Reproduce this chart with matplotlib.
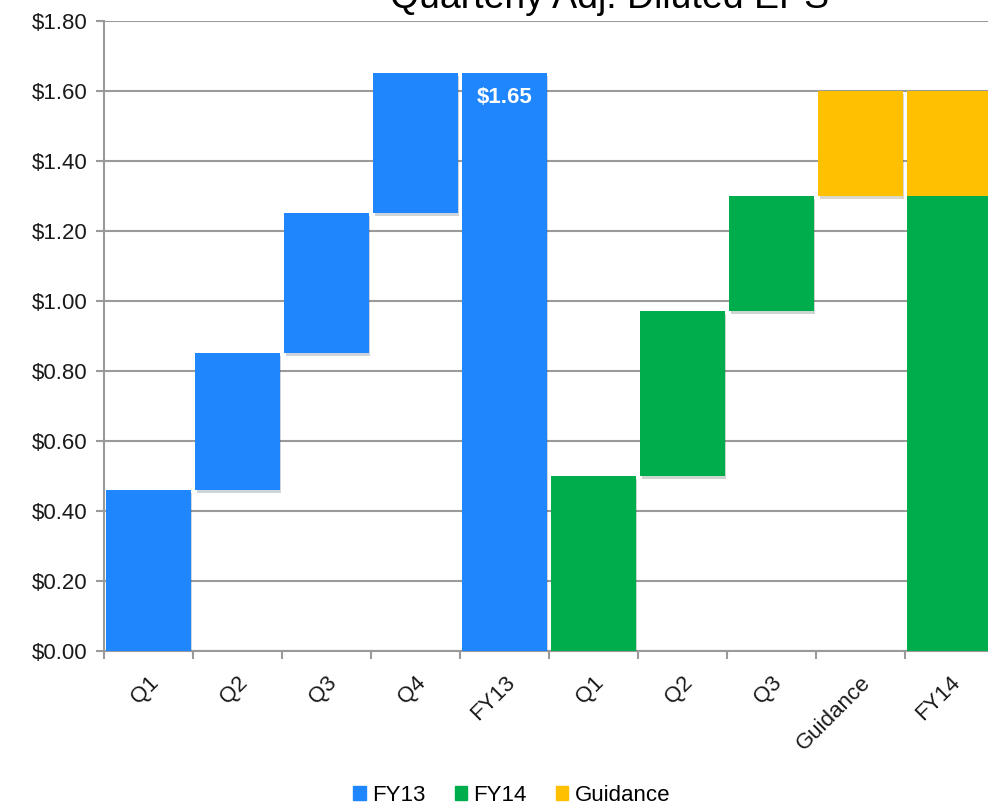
import numpy as np
import matplotlib.pyplot as plt
import matplotlib.patheffects as pe
from matplotlib.patches import Patch

plt.rcParams['font.family'] = ['Liberation Sans', 'DejaVu Sans']

# data
categories = ['Q1', 'Q2', 'Q3', 'Q4', 'FY13', 'Q1', 'Q2', 'Q3', 'Guidance', 'FY14']
fy13_quarters = [0.46, 0.39, 0.40, 0.40]
fy13_total = 1.65
fy14_quarters = [0.50, 0.47, 0.33]
fy14_guidance = 0.30
y_ticks = [0.0, 0.2, 0.4, 0.6, 0.8, 1.0, 1.2, 1.4, 1.6, 1.8]

c_fy13 = '#1f86fe'
c_fy14 = '#00ad4c'
c_guid = '#fec000'

fig = plt.figure(figsize=(9.88, 8.06), dpi=100)
ax = fig.add_axes([0.1053, 0.1923, 0.9008, 0.7817])

shadow = [pe.SimplePatchShadow(offset=(1, -2), alpha=0.2), pe.Normal()]
w = 0.95
x = np.arange(len(categories))

# FY13 waterfall
b13 = np.concatenate([[0], np.cumsum(fy13_quarters)[:-1]])
ax.bar(x[:4], fy13_quarters, bottom=b13, width=w, color=c_fy13, zorder=3, path_effects=shadow)
ax.bar(x[4], fy13_total, width=w, color=c_fy13, zorder=3, path_effects=shadow)

# FY14 waterfall
b14 = np.concatenate([[0], np.cumsum(fy14_quarters)[:-1]])
ax.bar(x[5:8], fy14_quarters, bottom=b14, width=w, color=c_fy14, zorder=3, path_effects=shadow)
fy14_actual = sum(fy14_quarters)
ax.bar(x[8], fy14_guidance, bottom=fy14_actual, width=w, color=c_guid, zorder=3, path_effects=shadow)
ax.bar(x[9], fy14_actual, width=w, color=c_fy14, zorder=3)
ax.bar(x[9], fy14_guidance, bottom=fy14_actual, width=w, color=c_guid, zorder=3)

ax.text(x[4], fy13_total - 0.04, '$%.2f' % fy13_total, color='white', fontsize=16,
        fontweight='bold', ha='center', va='top', zorder=4)

ax.set_xlim(-0.5, 9.5)
ax.set_ylim(0, 1.8)
ax.set_yticks(y_ticks)
ax.set_yticklabels(['$%.2f' % v for v in y_ticks], fontsize=16, color='#1a1a1a')
ax.yaxis.grid(True, color='#9a9a9a', linewidth=1.5, zorder=0)
ax.set_axisbelow(True)

ax.set_xticks(x)
ax.set_xticklabels(categories, rotation=45, ha='right', rotation_mode='anchor', fontsize=16,
                   color='#1a1a1a')
ax.set_xticks(np.arange(-0.5, 10, 1), minor=True)
ax.tick_params(axis='x', which='major', length=0, pad=15)
ax.tick_params(axis='x', which='minor', length=6, width=1.5, color='#9a9a9a')
ax.tick_params(axis='y', length=6, width=1.5, color='#9a9a9a', pad=6)

for s in ['top', 'right']:
    ax.spines[s].set_visible(False)
for s in ['left', 'bottom']:
    ax.spines[s].set_color('#9a9a9a')
    ax.spines[s].set_linewidth(1.5)

fig.text(0.617, 0.990, 'Quarterly Adj. Diluted EPS', fontsize=27, ha='center', va='baseline')

handles = [Patch(color=c_fy13, label='FY13'), Patch(color=c_fy14, label='FY14'),
           Patch(color=c_guid, label='Guidance')]
fig.legend(handles=handles, loc='center', bbox_to_anchor=(0.518, 0.013), ncol=3, frameon=False,
           fontsize=16, handlelength=0.55, handleheight=0.55, handletextpad=0.3, columnspacing=1.3)

fig.savefig('out.png', dpi=100)
